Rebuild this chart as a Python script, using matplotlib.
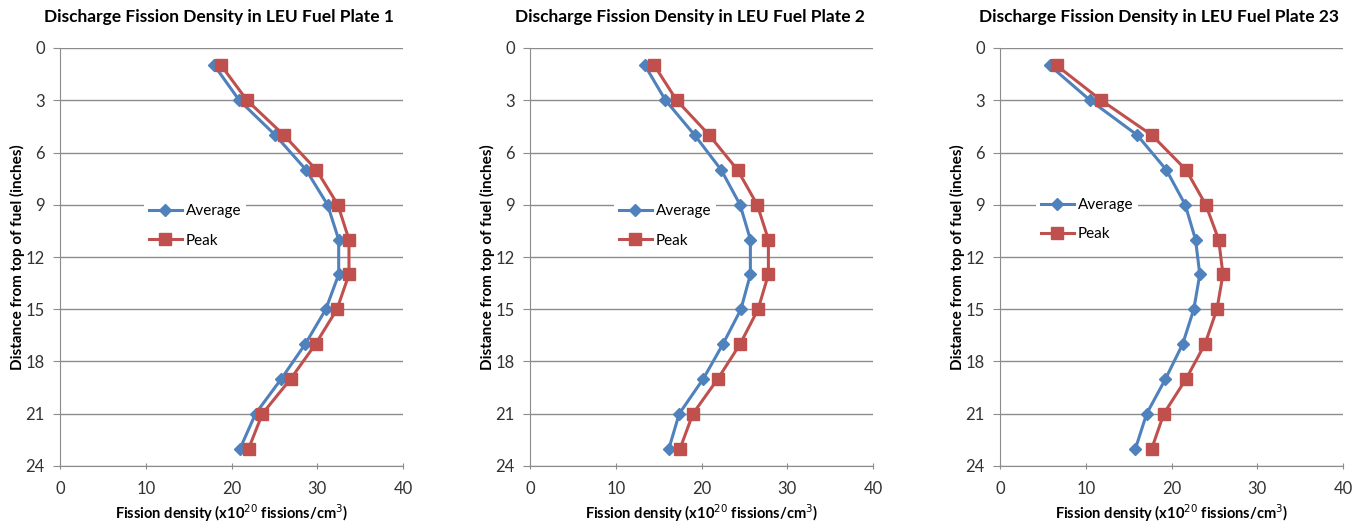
import numpy as np
import matplotlib.pyplot as plt

# depth from top of fuel (inches)
depth = [1, 3, 5, 7, 9, 11, 13, 15, 17, 19, 21, 23]

# fission density, x10^20 fissions/cm3
plate1_avg = [18.0, 20.9, 25.1, 28.7, 31.2, 32.5, 32.5, 31.0, 28.6, 25.8, 22.8, 21.0]
plate1_peak = [18.8, 21.8, 26.1, 29.9, 32.4, 33.7, 33.7, 32.3, 29.8, 26.9, 23.6, 22.0]
plate2_avg = [13.4, 15.8, 19.2, 22.3, 24.5, 25.7, 25.7, 24.6, 22.5, 20.2, 17.4, 16.2]
plate2_peak = [14.5, 17.1, 20.9, 24.2, 26.5, 27.8, 27.8, 26.6, 24.5, 21.9, 19.0, 17.5]
plate23_avg = [5.8, 10.5, 16.0, 19.4, 21.6, 22.8, 23.3, 22.6, 21.3, 19.3, 17.1, 15.8]
plate23_peak = [6.6, 11.8, 17.7, 21.7, 24.0, 25.5, 26.0, 25.3, 23.9, 21.7, 19.1, 17.7]

plates = ["1", "2", "23"]
avgs = [plate1_avg, plate2_avg, plate23_avg]
peaks = [plate1_peak, plate2_peak, plate23_peak]

plt.rcParams['font.family'] = ['Lato', 'DejaVu Sans']

fig = plt.figure(figsize=(13.58, 5.25), dpi=100)
lefts = [60 / 1358, 530 / 1358, 1000 / 1358]
# legend anchor (axes fraction) per panel
leg_pos = [(0.245, 0.637), (0.245, 0.637), (0.105, 0.652)]

for i in range(3):
    ax = fig.add_axes([lefts[i], 59 / 525, 343 / 1358, 418 / 525])
    ax.plot(avgs[i], depth, color='#4F81BD', lw=2.2, marker='D', ms=6,
            label='Average', zorder=3)
    ax.plot(peaks[i], depth, color='#C0504D', lw=2.2, marker='s', ms=8,
            label='Peak', zorder=3)
    ax.set_xlim(0, 40)
    ax.set_ylim(24, 0)
    ax.set_xticks(np.arange(0, 41, 10))
    ax.set_yticks(np.arange(0, 25, 3))
    ax.grid(axis='y', color='#8c8c8c', lw=1)
    ax.set_axisbelow(True)
    for s in ['top', 'right']:
        ax.spines[s].set_visible(False)
    for s in ['left', 'bottom']:
        ax.spines[s].set_color('#8c8c8c')
    ax.tick_params(colors='#8c8c8c', labelcolor='#333333', labelsize=12)
    ax.tick_params(axis='y', length=5, pad=6)
    ax.tick_params(axis='x', direction='inout', length=5, pad=8)
    # title sits a bit left of the plot centre, as in the source chart
    ax.text(0.465, 1.055, "Discharge Fission Density in LEU Fuel Plate " + plates[i],
            transform=ax.transAxes, ha='center', va='bottom',
            fontsize=12.5, fontweight='bold')
    ax.set_xlabel("Fission density (x10$^{20}$ fissions/cm$^3$)",
                  fontsize=10.5, fontweight='bold', labelpad=4)
    ax.set_ylabel("Distance from top of fuel (inches)", fontsize=11,
                  fontweight='bold', labelpad=0)
    leg = ax.legend(loc='upper left', bbox_to_anchor=leg_pos[i], frameon=True,
                    fontsize=11, handlelength=2.2, handletextpad=0.25,
                    borderaxespad=0, labelspacing=1.0, borderpad=0.3)
    leg.get_frame().set_edgecolor('none')
    leg.get_frame().set_facecolor('white')
    leg.get_frame().set_alpha(1)

fig.savefig("out.png", dpi=100)
